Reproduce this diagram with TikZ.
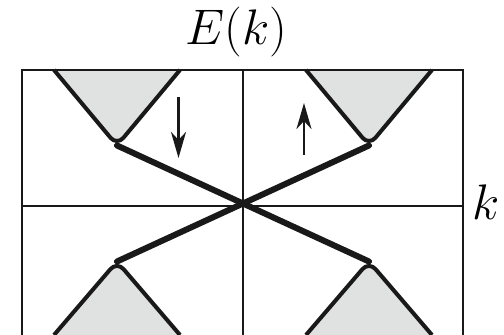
\documentclass[tikz,border=0pt]{standalone}
\usepackage{xcolor}
\usepackage{tikz}
\usetikzlibrary{arrows.meta}
\definecolor{mydark}{RGB}{25,25,25}
\definecolor{bandgray}{RGB}{224,226,226}
\tikzset{
  band/.style={draw=mydark, fill=bandgray, line width=2pt,
    rounded corners=5pt, line join=round},
  edgestate/.style={line width=3pt, color=mydark, line cap=round},
  spin/.style={-{Stealth[length=13pt, width=7.5pt, inset=4pt]},
    line width=1pt, color=mydark},
  frame/.style={line width=1.1pt, color=mydark},
  label/.style={font=\Huge, inner sep=0pt}
}

\begin{document}
\begin{tikzpicture}[x=0.875cm, y=0.875cm]
    \useasboundingbox (-4.86,-2.58) rectangle (5.22,4.12);
    % Band edges
    \coordinate (tl) at (-2.52,1.21);
    \coordinate (tr) at (2.52,1.21);
    \coordinate (bl) at (-2.52,-1.11);
    \coordinate (br) at (2.52,-1.11);
    \draw[band] (-3.78,2.72) -- (tl) -- (-1.26,2.72);
    \draw[band] (1.26,2.72) -- (tr) -- (3.78,2.72);
    \draw[band] (-3.78,-2.58) -- (bl) -- (-1.26,-2.58);
    \draw[band] (1.26,-2.58) -- (br) -- (3.78,-2.58);
    % Frame and axes
    \draw[frame] (-4.42,-2.58) -- (-4.42,2.72) -- (4.40,2.72) -- (4.40,-2.58);
    \draw[frame] (-4.42,0) -- (4.40,0);
    \draw[frame] (0,2.72) -- (0,-2.58);
    % Edge states
    \draw[edgestate] (tl) -- (br);
    \draw[edgestate] (bl) -- (tr);
    % Spins
    \draw[spin] (-1.29,2.18) -- (-1.29,0.96);
    \draw[spin] (1.22,1.02) -- (1.22,2.06);
    % Labels
    \node[label, anchor=base] (energy) at (-0.13,3.22) {$E(k)$};
    \node[label, anchor=base west] (wavevec) at (4.58,-0.28) {$k$};
\end{tikzpicture}
\end{document}
